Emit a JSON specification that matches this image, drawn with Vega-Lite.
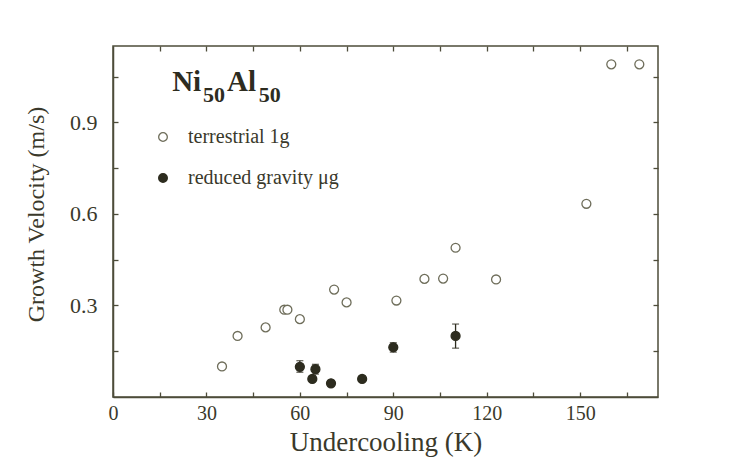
{
  "$schema": "https://vega.github.io/schema/vega-lite/v6.json",
  "autosize": "none",
  "width": 545,
  "height": 351,
  "padding": {"left": 113, "top": 46, "right": 87, "bottom": 70},
  "background": "white",
  "config": {
    "view": {"stroke": "#4d4c3a", "strokeWidth": 1.5},
    "font": "Liberation Serif",
    "axis": {
      "grid": false,
      "domainColor": "#4d4c3a",
      "domainWidth": 1.5,
      "tickColor": "#4d4c3a",
      "tickWidth": 1.3,
      "tickSize": -5,
      "labelFont": "Liberation Serif",
      "labelColor": "#3a392b",
      "labelFontSize": 20,
      "titleFont": "Liberation Serif",
      "titleColor": "#3a392b",
      "titleFontSize": 27,
      "titleFontWeight": "normal"
    }
  },
  "datasets": {
    "pts": [
      {"undercooling": 35, "velocity": 0.10, "series": "terrestrial 1g"},
      {"undercooling": 40, "velocity": 0.20, "series": "terrestrial 1g"},
      {"undercooling": 49, "velocity": 0.228, "series": "terrestrial 1g"},
      {"undercooling": 55, "velocity": 0.286, "series": "terrestrial 1g"},
      {"undercooling": 56, "velocity": 0.286, "series": "terrestrial 1g"},
      {"undercooling": 60, "velocity": 0.255, "series": "terrestrial 1g"},
      {"undercooling": 71, "velocity": 0.352, "series": "terrestrial 1g"},
      {"undercooling": 75, "velocity": 0.31, "series": "terrestrial 1g"},
      {"undercooling": 91, "velocity": 0.316, "series": "terrestrial 1g"},
      {"undercooling": 100, "velocity": 0.387, "series": "terrestrial 1g"},
      {"undercooling": 106, "velocity": 0.388, "series": "terrestrial 1g"},
      {"undercooling": 110, "velocity": 0.489, "series": "terrestrial 1g"},
      {"undercooling": 123, "velocity": 0.385, "series": "terrestrial 1g"},
      {"undercooling": 152, "velocity": 0.633, "series": "terrestrial 1g"},
      {"undercooling": 160, "velocity": 1.09, "series": "terrestrial 1g"},
      {"undercooling": 169, "velocity": 1.09, "series": "terrestrial 1g"},
      {"undercooling": 60, "velocity": 0.099, "lo": 0.081, "hi": 0.119, "series": "reduced gravity μg"},
      {"undercooling": 65, "velocity": 0.091, "lo": 0.075, "hi": 0.107, "series": "reduced gravity μg"},
      {"undercooling": 64, "velocity": 0.059, "series": "reduced gravity μg"},
      {"undercooling": 70, "velocity": 0.045, "series": "reduced gravity μg"},
      {"undercooling": 80, "velocity": 0.059, "series": "reduced gravity μg"},
      {"undercooling": 90, "velocity": 0.163, "lo": 0.147, "hi": 0.178, "series": "reduced gravity μg"},
      {"undercooling": 110, "velocity": 0.2, "lo": 0.160, "hi": 0.239, "series": "reduced gravity μg"}
    ],
    "big": [
      {"text": "Ni", "x": 19.0, "y": 1.003},
      {"text": "Al", "x": 36.6, "y": 1.003}
    ],
    "small": [
      {"text": "50", "x": 28.9, "y": 0.968},
      {"text": "50", "x": 46.8, "y": 0.968}
    ]
  },
  "resolve": {"axis": {"x": "independent", "y": "independent"}},
  "layer": [
    {
      "data": {"name": "pts"},
      "transform": [{"filter": "isValid(datum.lo)"}],
      "mark": {"type": "errorbar", "color": "#2d2c1f", "thickness": 1.3, "ticks": {"size": 7, "thickness": 1.3, "color": "#2d2c1f"}},
      "encoding": {
        "x": {"field": "undercooling", "type": "quantitative", "scale": {"domain": [0, 175], "nice": false, "zero": false},
          "axis": {"orient": "top", "title": null, "labels": false, "domain": false,
            "values": [15, 30, 45, 60, 75, 90, 105, 120, 135, 150, 165]}},
        "y": {"field": "lo", "type": "quantitative", "scale": {"domain": [0, 1.15], "nice": false, "zero": false},
          "axis": {"orient": "right", "title": null, "labels": false, "domain": false,
            "values": [0.15, 0.3, 0.45, 0.6, 0.75, 0.9, 1.05]}},
        "y2": {"field": "hi"}
      }
    },
    {
      "data": {"name": "pts"},
      "mark": {"type": "point", "shape": "circle", "size": 80, "strokeWidth": 1.3, "opacity": 1},
      "encoding": {
        "x": {"field": "undercooling", "type": "quantitative",
          "axis": {"orient": "bottom", "title": "Undercooling (K)", "labelFlush": false, "labelPadding": 11, "titlePadding": 6,
            "values": [0, 15, 30, 45, 60, 75, 90, 105, 120, 135, 150, 165], "format": "d",
            "labelExpr": "datum.value % 30 === 0 ? datum.label : ''"}},
        "y": {"field": "velocity", "type": "quantitative",
          "axis": {"orient": "left", "title": "Growth Velocity (m/s)", "labelPadding": 21, "labelFontSize": 22, "titlePadding": 21, "titleFontSize": 24, "titleY": 168,
            "values": [0.15, 0.3, 0.45, 0.6, 0.75, 0.9, 1.05], "format": ".1f",
            "labelExpr": "abs(datum.value * 10 / 3 - round(datum.value * 10 / 3)) < 0.01 ? datum.label : ''"}},
        "fill": {"field": "series", "type": "nominal",
          "scale": {"domain": ["terrestrial 1g", "reduced gravity μg"], "range": ["#ffffff", "#2d2c1f"]},
          "legend": {"orient": "none", "legendX": 40, "legendY": 81, "title": null, "labelFont": "Liberation Serif",
            "labelFontSize": 20, "labelColor": "#3a392b", "labelOffset": 15, "rowPadding": 21, "symbolSize": 75,
            "symbolStrokeWidth": 1.3}},
        "stroke": {"field": "series", "type": "nominal",
          "scale": {"domain": ["terrestrial 1g", "reduced gravity μg"], "range": ["#6e6d5a", "#2d2c1f"]},
          "legend": {"orient": "none", "legendX": 40, "legendY": 81, "title": null, "labelFont": "Liberation Serif",
            "labelFontSize": 20, "labelColor": "#3a392b", "labelOffset": 15, "rowPadding": 21, "symbolSize": 75,
            "symbolStrokeWidth": 1.3}}
      }
    },
    {
      "data": {"name": "big"},
      "mark": {"type": "text", "align": "left", "baseline": "alphabetic", "font": "Liberation Serif", "fontWeight": "bold", "fontSize": 29, "color": "#2d2c1f"},
      "encoding": {
        "x": {"field": "x", "type": "quantitative", "axis": null},
        "y": {"field": "y", "type": "quantitative", "axis": null},
        "text": {"field": "text"}
      }
    },
    {
      "data": {"name": "small"},
      "mark": {"type": "text", "align": "left", "baseline": "alphabetic", "font": "Liberation Serif", "fontWeight": "bold", "fontSize": 22, "color": "#2d2c1f"},
      "encoding": {
        "x": {"field": "x", "type": "quantitative", "axis": null},
        "y": {"field": "y", "type": "quantitative", "axis": null},
        "text": {"field": "text"}
      }
    }
  ]
}
